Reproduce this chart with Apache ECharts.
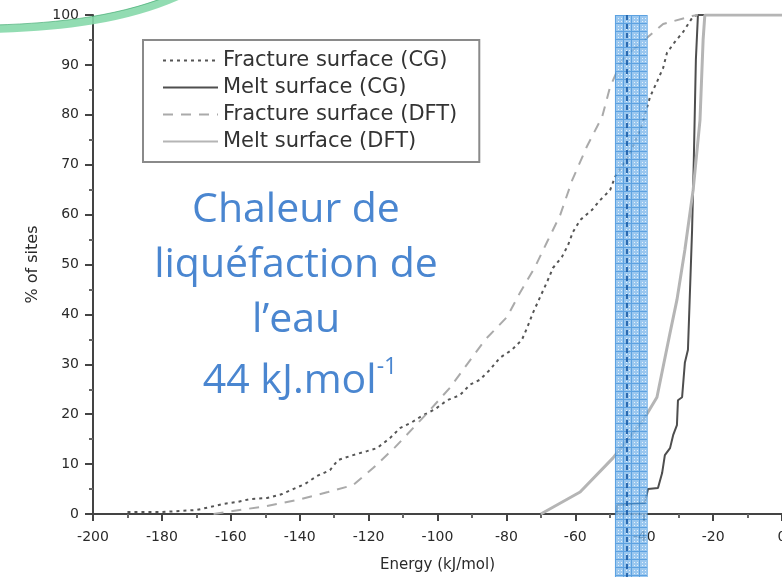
<!DOCTYPE html>
<html>
<head>
<meta charset="utf-8">
<script src="https://cdn.jsdelivr.net/npm/echarts@6/dist/echarts.min.js"></script>
<style>
  html, body { margin: 0; padding: 0; background: #fff; overflow: hidden; }
  #chart { width: 782px; height: 577px; }
</style>
</head>
<body>
<div id="chart"></div>
<script>
// Cumulative distributions of adsorption-site energies, [energy kJ/mol, % of sites]
const fractureCG = [
  [-190, 0.4], [-180, 0.4], [-170, 0.8], [-166, 1.4], [-162.3, 2.0], [-158.2, 2.4],
  [-154.4, 3.0], [-149.5, 3.2], [-145.1, 4.0], [-141.9, 5.0], [-138.5, 6.0], [-135, 7.6],
  [-131.2, 8.8], [-128.9, 10.8], [-124.5, 11.8], [-120.5, 12.6], [-117.6, 13.2],
  [-113.8, 15.2], [-110.9, 17.2], [-107.4, 18.4], [-104.2, 19.8], [-100.7, 21.0],
  [-97.2, 22.8], [-93.5, 23.8], [-90.6, 25.9], [-87.7, 26.9], [-84.8, 28.9], [-81.9, 31.3],
  [-78.4, 32.9], [-75.5, 34.9], [-74.0, 37.3], [-72.3, 40.3], [-70.2, 43.5], [-68.2, 46.5],
  [-66.5, 49.3], [-63.9, 51.5], [-62.1, 53.9], [-60.7, 56.5], [-58.6, 58.9], [-55.2, 60.9],
  [-52.8, 62.9], [-49.9, 64.9], [-48.5, 67.5], [-44.1, 72.3], [-40.6, 78.0], [-38.3, 83.6],
  [-36.3, 86.6], [-34.5, 89.4], [-33.4, 92.4], [-31.1, 94.6], [-28.7, 96.6], [-26.1, 99.4],
  [-24.7, 100]
];
const meltCG = [
  [-48, 0], [-47.9, 1.8], [-39.8, 2.2], [-38.9, 5.0], [-36, 5.2], [-34.8, 8.2], [-34, 11.8],
  [-32.5, 13.2], [-31.6, 15.8], [-30.5, 17.8], [-30.2, 22.8], [-29, 23.4], [-28.2, 30.3],
  [-27.3, 32.9], [-26.8, 42.9], [-26.1, 56.9], [-25.6, 70.9], [-25, 91], [-24.4, 100],
  [-22, 100]
];
const fractureDFT = [
  [-165, 0], [-159.4, 0.6], [-149.5, 1.6], [-140.8, 2.8], [-131.8, 4.4], [-124.5, 5.8],
  [-118.7, 9.2], [-112.3, 13.4], [-107.1, 17.2], [-103, 20.2], [-96.4, 25.3], [-91.1, 30.3],
  [-86.2, 34.9], [-79.8, 39.5], [-76.1, 44.3], [-71.7, 49.5], [-68.2, 54.5], [-64.4, 59.9],
  [-60.9, 66.9], [-56.6, 73.7], [-52.2, 79.6], [-49.9, 85.6], [-46.4, 91], [-40.6, 94.6],
  [-34.5, 98.2], [-26.1, 99.8], [-24.5, 100]
];
const meltDFT = [
  [-70, 0], [-58.6, 4.4], [-49.1, 11.2], [-40.3, 18.8], [-36.3, 23.4], [-34.5, 29.5],
  [-32.5, 36.3], [-30.5, 42.9], [-28.2, 52.9], [-25.8, 64.9], [-23.8, 79], [-22.9, 95],
  [-22.4, 100], [0, 100]
];

const seriesNames = ['Fracture surface (CG)', 'Melt surface (CG)', 'Fracture surface (DFT)', 'Melt surface (DFT)'];

// Energy window around the heat of vaporisation of water
const waterBand = [-48.5, -39];
const waterLine = -45;
const noteLines = ['Chaleur de', 'liquéfaction de', 'l\u2019eau'];
const noteValue = '44 kJ.mol';
const noteExponent = '-1';

const FONT = '"DejaVu Sans", sans-serif';
const axisColor = '#444444';

const chart = echarts.init(document.getElementById('chart'), null, { renderer: 'canvas' });

const axisCommon = {
  type: 'value',
  splitLine: { show: false },
  axisLine: { onZero: false, lineStyle: { color: axisColor, width: 2 } },
  axisTick: { show: true, lineStyle: { color: axisColor, width: 2 } },
  minorTick: { show: true, splitNumber: 2, length: 4, lineStyle: { color: '#666666', width: 2 } },
  axisLabel: { fontFamily: FONT, fontSize: 14, color: '#2a2a2a' },
  nameLocation: 'middle',
  nameTextStyle: { fontFamily: FONT, fontSize: 15, color: '#2a2a2a' }
};

function lineSeries(name, data, color, width, dash) {
  return {
    name, type: 'line', data,
    symbol: 'none', showSymbol: false, smooth: false,
    lineStyle: { color, width, type: dash || 'solid', cap: 'butt' },
    itemStyle: { color },
    z: 2
  };
}

chart.setOption({
  animation: false,
  backgroundColor: '#ffffff',
  grid: { left: 93, right: 0, top: 15, bottom: 63, outerBoundsMode: 'none', containLabel: false },
  xAxis: Object.assign({}, axisCommon, {
    min: -200, max: 0, interval: 20,
    name: 'Energy (kJ/mol)', nameGap: 44,
    axisTick: Object.assign({}, axisCommon.axisTick, { length: 7 }),
    axisLabel: Object.assign({}, axisCommon.axisLabel, { margin: 16, showMaxLabel: true })
  }),
  yAxis: Object.assign({}, axisCommon, {
    min: 0, max: 100, interval: 10,
    name: '% of sites', nameGap: 52,
    nameTextStyle: Object.assign({}, axisCommon.nameTextStyle, { fontSize: 16 }),
    axisTick: Object.assign({}, axisCommon.axisTick, { length: 8 }),
    axisLabel: Object.assign({}, axisCommon.axisLabel, { margin: 14 })
  }),
  legend: {
    data: seriesNames,
    orient: 'vertical',
    left: 143, top: 40,
    itemWidth: 55, itemHeight: 14, itemGap: 6,
    padding: [10, 22, 10, 19],
    borderColor: '#8a8a8a', borderWidth: 2,
    backgroundColor: '#ffffff',
    itemStyle: { opacity: 0, borderWidth: 0 },
    lineStyle: { opacity: 1 },
    textStyle: { fontFamily: FONT, fontSize: 21, color: '#333' }
  },
  series: [
    lineSeries(seriesNames[0], fractureCG, '#555555', 2, [3, 4]),
    lineSeries(seriesNames[1], meltCG, '#4e4e4e', 2),
    lineSeries(seriesNames[2], fractureDFT, '#aaaaaa', 2, [10, 8]),
    lineSeries(seriesNames[3], meltDFT, '#b5b5b5', 3)
  ]
});

// Hatched blue fill for the highlighted energy window
function hatchPattern() {
  const c = document.createElement('canvas');
  c.width = 8; c.height = 8;
  const g = c.getContext('2d');
  g.fillStyle = '#84bbec'; g.fillRect(0, 0, 8, 8);
  g.fillStyle = '#3a8edb'; g.fillRect(7, 0, 1, 8); g.fillRect(0, 7, 8, 1);
  g.fillStyle = 'rgba(255,255,255,0.75)';
  g.fillRect(2, 2, 1, 1); g.fillRect(5, 5, 1, 1); g.fillRect(2, 5, 1, 1); g.fillRect(5, 2, 1, 1);
  return { image: c, repeat: 'repeat' };
}

const toPx = (x, y) => chart.convertToPixel({ gridIndex: 0 }, [x, y]);
const H = chart.getHeight();
const topY = toPx(0, 100)[1];
const bx0 = toPx(waterBand[0], 0)[0];
const bx1 = toPx(waterBand[1], 0)[0];
const lx = toPx(waterLine, 0)[0];

const noteColor = '#4a86d0';
const noteFont = '"Open Sans", "Liberation Sans", sans-serif';
const noteX = 296;
const noteY = [210, 265, 320];

const graphics = [
  // decorative swoosh in the corner
  {
    type: 'bezierCurve', z: 50,
    shape: { x1: -5, y1: 29, cpx1: 60, cpy1: 27, cpx2: 125, cpy2: 20, x2: 180, y2: -5 },
    style: { stroke: '#86d8aa', lineWidth: 8, fill: null, opacity: 0.9 }
  },
  {
    type: 'bezierCurve', z: 51,
    shape: { x1: -5, y1: 25, cpx1: 60, cpy1: 23, cpx2: 125, cpy2: 16, x2: 180, y2: -9 },
    style: { stroke: '#35a468', lineWidth: 1, fill: null, opacity: 0.6 }
  },
  {
    type: 'rect', z: 40,
    shape: { x: bx0, y: topY, width: bx1 - bx0, height: H - topY },
    style: { fill: hatchPattern(), opacity: 0.82 }
  },
  {
    type: 'line', z: 41,
    shape: { x1: lx, y1: topY, x2: lx, y2: H },
    style: { stroke: '#1d5ea8', lineWidth: 2, lineDash: [5, 4], opacity: 0.9 }
  }
];

noteLines.forEach((t, i) => {
  graphics.push({
    type: 'text', z: 60,
    x: noteX, y: noteY[i],
    style: {
      text: t, fill: noteColor, fontFamily: noteFont, fontSize: 41,
      align: 'center', verticalAlign: 'middle'
    }
  });
});
graphics.push({
  type: 'text', z: 60,
  x: noteX + 4, y: 378,
  style: {
    text: '{b|' + noteValue + '}{s|' + noteExponent + '}',
    align: 'center', verticalAlign: 'middle',
    rich: {
      b: { fill: noteColor, color: noteColor, fontFamily: noteFont, fontSize: 41, lineHeight: 48, verticalAlign: 'bottom' },
      s: { fill: noteColor, color: noteColor, fontFamily: noteFont, fontSize: 23, lineHeight: 48, verticalAlign: 'top', padding: [2, 0, 0, 0] }
    }
  }
});

chart.setOption({ graphic: graphics });
</script>
</body>
</html>
